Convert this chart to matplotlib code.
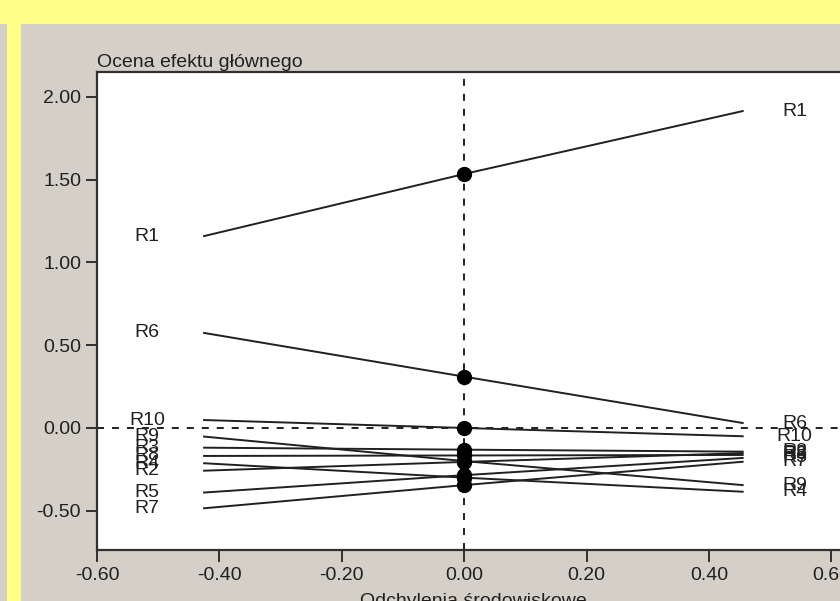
"""Stability plot: main effect vs environmental deviations."""

import matplotlib
matplotlib.use("Agg")
import numpy as np
from matplotlib import pyplot as plt
from matplotlib.patches import Rectangle

# data
names = ["R1", "R6", "R10", "R9", "R3", "R8", "R4", "R2", "R5", "R7"]
x_env = [-0.425, 0.0, 0.455]  # lowest deviation, mean, highest deviation
left_vals = [1.159, 0.574, 0.048, -0.052, -0.119, -0.169, -0.213, -0.258, -0.390, -0.485]
mid_vals = [1.534, 0.310, 0.000, -0.200, -0.131, -0.166, -0.300, -0.205, -0.285, -0.345]
right_vals = [1.914, 0.030, -0.050, -0.345, -0.143, -0.163, -0.385, -0.152, -0.181, -0.204]
x_ticks = [-0.60, -0.40, -0.20, 0.00, 0.20, 0.40, 0.60]
y_ticks = [-0.50, 0.00, 0.50, 1.00, 1.50, 2.00]

plt.rcParams["font.family"] = ["Liberation Sans", "DejaVu Sans"]
plt.rcParams["axes.unicode_minus"] = False

W, H = 840, 601
fig = plt.figure(figsize=(W / 100, H / 100), dpi=100, facecolor="#d4d0c8")

# yellow frame strips
fig.patches.append(Rectangle((0, 1 - 24 / H), 1, 24 / H, transform=fig.transFigure,
                             facecolor="#ffff88", edgecolor="none", zorder=0))
fig.patches.append(Rectangle((7 / W, 0), 14 / W, 1 - 24 / H, transform=fig.transFigure,
                             facecolor="#ffff88", edgecolor="none", zorder=0))

# axes: left spine at x=97px, right edge runs past the figure edge
ax_left, ax_right = 97, 862
ax_top, ax_bottom = 72, 550
ax = fig.add_axes([ax_left / W, 1 - ax_bottom / H,
                   (ax_right - ax_left) / W, (ax_bottom - ax_top) / H])
ax.set_facecolor("white")
ax.set_xlim(-0.60, 0.65)
ax.set_ylim(-0.737, 2.15)

dash = (0, (3.6, 4.1))
ax.axhline(0, color="#202020", lw=1.4, ls=dash, zorder=1)
ax.axvline(0, color="#202020", lw=1.4, ls=dash, zorder=1)

for name, l, m, r in zip(names, left_vals, mid_vals, right_vals):
    ax.plot(x_env, [l, m, r], color="#202020", lw=1.4, zorder=2)
    ax.plot([x_env[1]], [m], "o", color="black", ms=10, zorder=3)
    ax.text(-0.518, l, name, ha="center", va="center", fontsize=14, color="#202020")
    ax.text(0.54, r, name, ha="center", va="center", fontsize=14, color="#202020")

ax.set_xticks(x_ticks)
ax.set_xticklabels([f"{v:.2f}" for v in x_ticks])
ax.set_yticks(y_ticks)
ax.set_yticklabels([f"{v:.2f}" for v in y_ticks])
ax.tick_params(axis="x", length=8.5, width=1.4, pad=3.5, labelsize=14,
               color="#303030", labelcolor="#202020")
ax.tick_params(axis="y", length=8, width=1.4, pad=3.5, labelsize=14,
               color="#303030", labelcolor="#202020")
for side in ["left", "bottom", "top", "right"]:
    ax.spines[side].set_color("#303030")
    ax.spines[side].set_linewidth(1.6)

# axis titles
fig.text(ax_left / W, 1 - 67 / H, "Ocena efektu głównego", ha="left", va="baseline",
         fontsize=14, color="#202020")
fig.text(473 / W, 1 - 606 / H, "Odchylenia środowiskowe", ha="center", va="baseline",
         fontsize=14, color="#202020")

fig.savefig("out.png", dpi=100, facecolor=fig.get_facecolor())
